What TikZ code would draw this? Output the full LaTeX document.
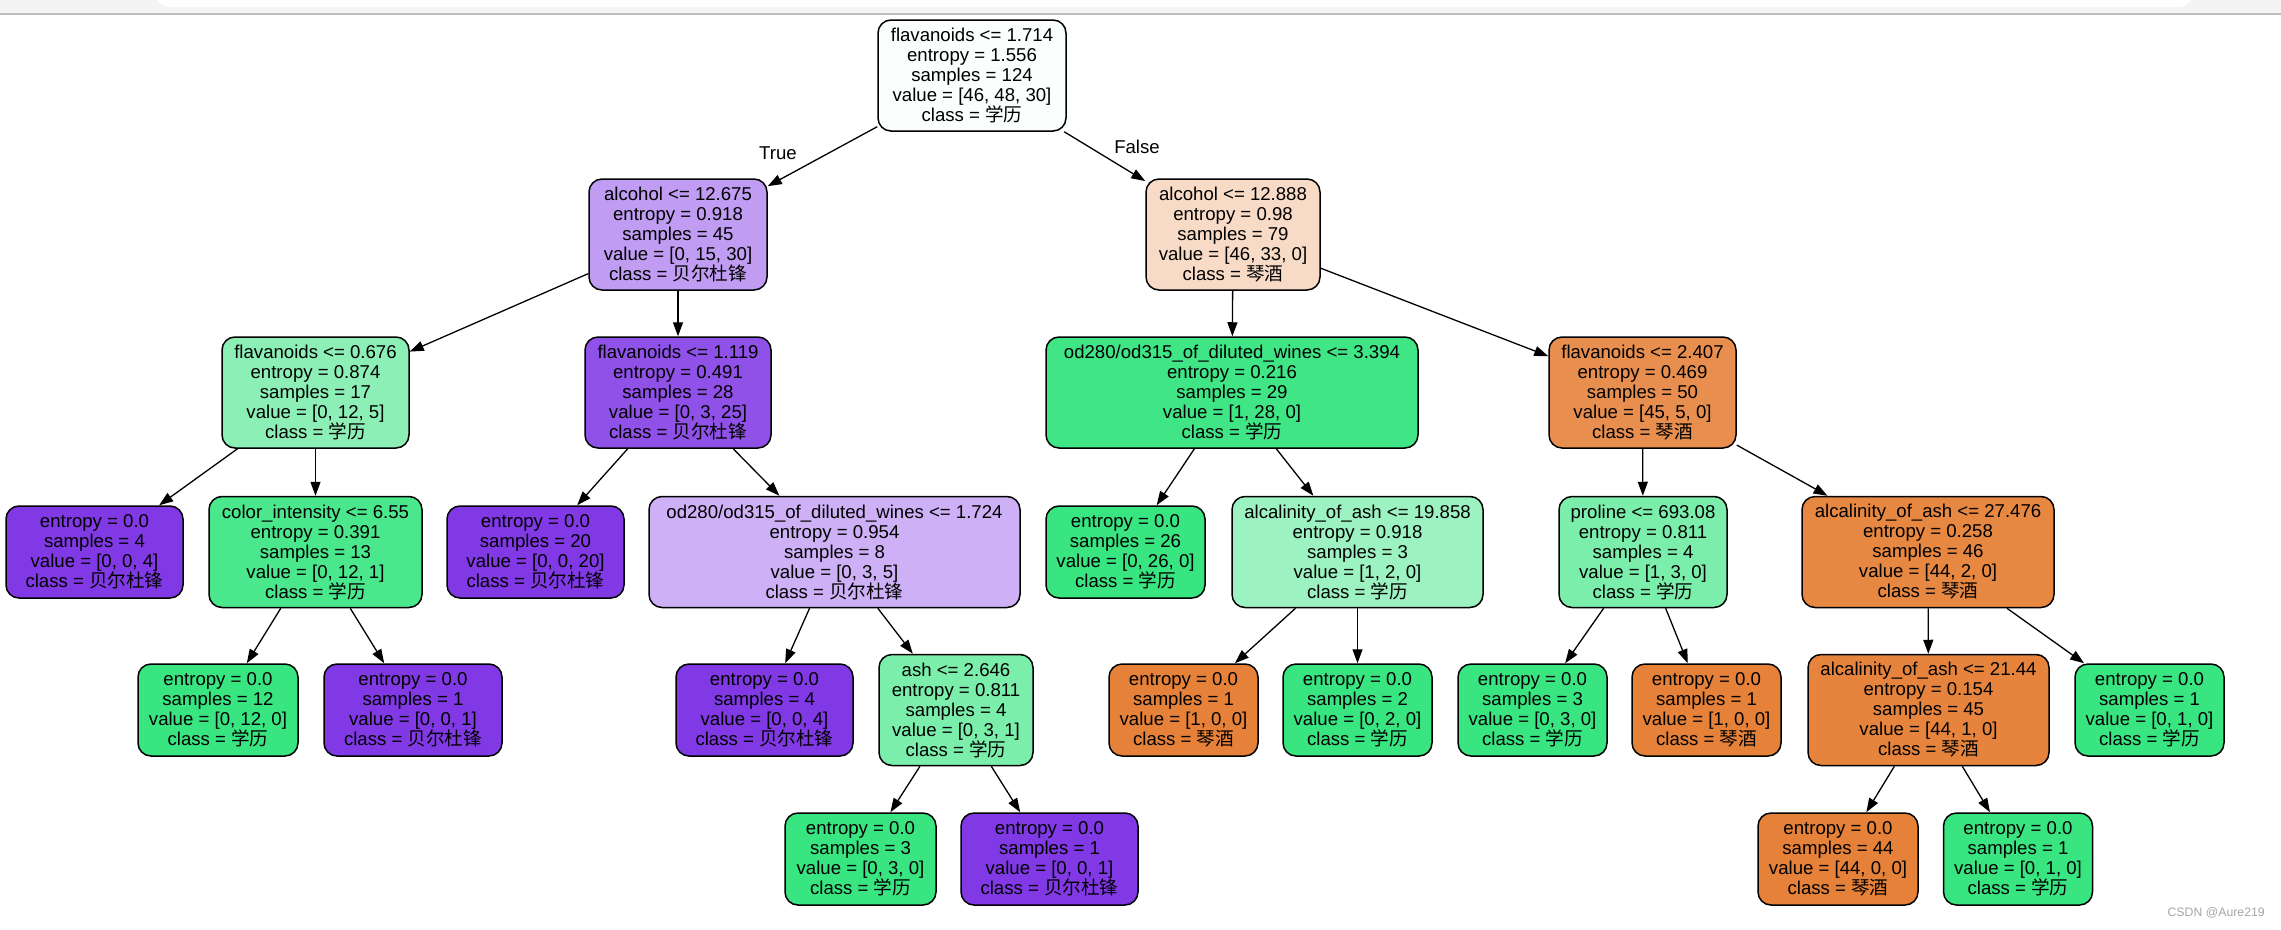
\documentclass[tikz,border=0pt]{standalone}
\usepackage{fontspec}
\setmainfont{Liberation Sans}
\newfontfamily\cjk{Noto Sans CJK SC}
\usetikzlibrary{arrows.meta}

% class colours (pure leaves and mixed splits)
\definecolor{orangeleaf}{HTML}{E58139}
\definecolor{greenleaf}{HTML}{39E581}
\definecolor{purpleleaf}{HTML}{8139E5}
\definecolor{rootfill}{HTML}{FAFEFC}
\definecolor{alcLfill}{HTML}{C09CF2}
\definecolor{alcRfill}{HTML}{F8DBC7}
\definecolor{flavAfill}{HTML}{8CF0B6}
\definecolor{flavBfill}{HTML}{9051E8}
\definecolor{odAfill}{HTML}{40E686}
\definecolor{flavCfill}{HTML}{E88F4F}
\definecolor{colorfill}{HTML}{4AE78C}
\definecolor{odBfill}{HTML}{CDB0F5}
\definecolor{ashAfill}{HTML}{9CF2C0}
\definecolor{prolfill}{HTML}{7BEEAB}
\definecolor{ashBfill}{HTML}{E68742}
\definecolor{ashCfill}{HTML}{E6843E}
\definecolor{topgray}{HTML}{F4F4F4}
\definecolor{linegray}{HTML}{BDBDBD}

\newcommand{\xueli}{{\cjk 学历}}
\newcommand{\beier}{{\cjk 贝尔杜锋}}
\newcommand{\qinjiu}{{\cjk 琴酒}}

\tikzset{
	treebox/.style={draw=black, line width=1.5pt, rounded corners=13pt, align=center, inner sep=2pt,
		font=\fontsize{18.6}{20}\selectfont},
	decision/.style={treebox, minimum height=111pt},
	leafbox/.style={treebox, minimum height=92pt},
	branch/.style={line width=1.3pt, -{Triangle[length=14pt,width=10pt]}},
}

\begin{document}
\begin{tikzpicture}[x=1pt, y=-1pt]

	\useasboundingbox (0,0) rectangle (2281,929);
	\fill[white] (0,0) rectangle (2281,929);

	%browser strip on top
	\fill[topgray] (0,0) rectangle (2281,13);
	\fill[white, rounded corners=15pt] (155,-20) rectangle (2193,7);
	\draw[linegray, line width=2.5pt] (0,14) -- (2281,14);

	%level 0 and 1
	\node[decision, fill=rootfill, minimum width=188pt] (n0) at (972,75.5) {flavanoids <= 1.714\\entropy = 1.556\\samples = 124\\value = [46, 48, 30]\\class = \xueli};
	\node[decision, fill=alcLfill, minimum width=178pt] (n1) at (678,234.5) {alcohol <= 12.675\\entropy = 0.918\\samples = 45\\value = [0, 15, 30]\\class = \beier};
	\node[decision, fill=alcRfill, minimum width=174pt] (n2) at (1233,234.5) {alcohol <= 12.888\\entropy = 0.98\\samples = 79\\value = [46, 33, 0]\\class = \qinjiu};

	%level 2
	\node[decision, fill=flavAfill, minimum width=187pt] (n3) at (315.5,392.5) {flavanoids <= 0.676\\entropy = 0.874\\samples = 17\\value = [0, 12, 5]\\class = \xueli};
	\node[decision, fill=flavBfill, minimum width=186pt] (n4) at (678,392.5) {flavanoids <= 1.119\\entropy = 0.491\\samples = 28\\value = [0, 3, 25]\\class = \beier};
	\node[decision, fill=odAfill, minimum width=372pt] (n5) at (1232,392.5) {od280/od315\_of\_diluted\_wines <= 3.394\\entropy = 0.216\\samples = 29\\value = [1, 28, 0]\\class = \xueli};
	\node[decision, fill=flavCfill, minimum width=187pt] (n6) at (1642.5,392.5) {flavanoids <= 2.407\\entropy = 0.469\\samples = 50\\value = [45, 5, 0]\\class = \qinjiu};

	%level 3
	\node[leafbox, fill=purpleleaf, minimum width=177pt] (n7) at (94.5,552) {entropy = 0.0\\samples = 4\\value = [0, 0, 4]\\class = \beier};
	\node[decision, fill=colorfill, minimum width=213pt] (n8) at (315.5,552) {color\_intensity <= 6.55\\entropy = 0.391\\samples = 13\\value = [0, 12, 1]\\class = \xueli};
	\node[leafbox, fill=purpleleaf, minimum width=177pt] (n9) at (535.5,552) {entropy = 0.0\\samples = 20\\value = [0, 0, 20]\\class = \beier};
	\node[decision, fill=odBfill, minimum width=371pt] (n10) at (834.5,552) {od280/od315\_of\_diluted\_wines <= 1.724\\entropy = 0.954\\samples = 8\\value = [0, 3, 5]\\class = \beier};
	\node[leafbox, fill=greenleaf, minimum width=159pt] (n11) at (1125.5,552) {entropy = 0.0\\samples = 26\\value = [0, 26, 0]\\class = \xueli};
	\node[decision, fill=ashAfill, minimum width=251pt] (n12) at (1357.5,552) {alcalinity\_of\_ash <= 19.858\\entropy = 0.918\\samples = 3\\value = [1, 2, 0]\\class = \xueli};
	\node[decision, fill=prolfill, minimum width=168pt] (n13) at (1643,552) {proline <= 693.08\\entropy = 0.811\\samples = 4\\value = [1, 3, 0]\\class = \xueli};
	\node[decision, fill=ashBfill, minimum width=252pt] (n14) at (1928,552) {alcalinity\_of\_ash <= 27.476\\entropy = 0.258\\samples = 46\\value = [44, 2, 0]\\class = \qinjiu};

	%level 4
	\node[leafbox, fill=greenleaf, minimum width=160pt] (n15) at (218,710) {entropy = 0.0\\samples = 12\\value = [0, 12, 0]\\class = \xueli};
	\node[leafbox, fill=purpleleaf, minimum width=178pt] (n16) at (413,710) {entropy = 0.0\\samples = 1\\value = [0, 0, 1]\\class = \beier};
	\node[leafbox, fill=purpleleaf, minimum width=177pt] (n17) at (764.5,710) {entropy = 0.0\\samples = 4\\value = [0, 0, 4]\\class = \beier};
	\node[decision, fill=prolfill, minimum width=154pt] (n18) at (956,710) {ash <= 2.646\\entropy = 0.811\\samples = 4\\value = [0, 3, 1]\\class = \xueli};
	\node[leafbox, fill=orangeleaf, minimum width=149pt] (n19) at (1183.5,710) {entropy = 0.0\\samples = 1\\value = [1, 0, 0]\\class = \qinjiu};
	\node[leafbox, fill=greenleaf, minimum width=149pt] (n20) at (1357.5,710) {entropy = 0.0\\samples = 2\\value = [0, 2, 0]\\class = \xueli};
	\node[leafbox, fill=greenleaf, minimum width=149pt] (n21) at (1532.5,710) {entropy = 0.0\\samples = 3\\value = [0, 3, 0]\\class = \xueli};
	\node[leafbox, fill=orangeleaf, minimum width=149pt] (n22) at (1706.5,710) {entropy = 0.0\\samples = 1\\value = [1, 0, 0]\\class = \qinjiu};
	\node[decision, fill=ashCfill, minimum width=241pt] (n23) at (1928.5,710) {alcalinity\_of\_ash <= 21.44\\entropy = 0.154\\samples = 45\\value = [44, 1, 0]\\class = \qinjiu};
	\node[leafbox, fill=greenleaf, minimum width=149pt] (n24) at (2149.5,710) {entropy = 0.0\\samples = 1\\value = [0, 1, 0]\\class = \xueli};

	%level 5
	\node[leafbox, fill=greenleaf, minimum width=151pt] (n25) at (860.5,859) {entropy = 0.0\\samples = 3\\value = [0, 3, 0]\\class = \xueli};
	\node[leafbox, fill=purpleleaf, minimum width=177pt] (n26) at (1049.5,859) {entropy = 0.0\\samples = 1\\value = [0, 0, 1]\\class = \beier};
	\node[leafbox, fill=orangeleaf, minimum width=160pt] (n27) at (1838,859) {entropy = 0.0\\samples = 44\\value = [44, 0, 0]\\class = \qinjiu};
	\node[leafbox, fill=greenleaf, minimum width=149pt] (n28) at (2018,859) {entropy = 0.0\\samples = 1\\value = [0, 1, 0]\\class = \xueli};

	%branches
	\foreach \p/\c in {n0/n1, n0/n2, n1/n3, n1/n4, n2/n5, n2/n6, n3/n7, n3/n8, n4/n9, n4/n10,
		n5/n11, n5/n12, n6/n13, n6/n14, n8/n15, n8/n16, n10/n17, n10/n18, n12/n19, n12/n20,
		n13/n21, n13/n22, n14/n23, n14/n24, n18/n25, n18/n26, n23/n27, n23/n28}
		\draw[branch] (\p) -- (\c);

	\node[font=\fontsize{18.6}{20}\selectfont] (lbltrue) at (778,153) {True};
	\node[font=\fontsize{18.6}{20}\selectfont] (lblfalse) at (1137,146.5) {False};

	\node[font=\fontsize{12.3}{14}\selectfont, text=black!35, anchor=east, inner sep=0pt] (watermark) at (2265,913) {CSDN @Aure219};

\end{tikzpicture}
\end{document}
